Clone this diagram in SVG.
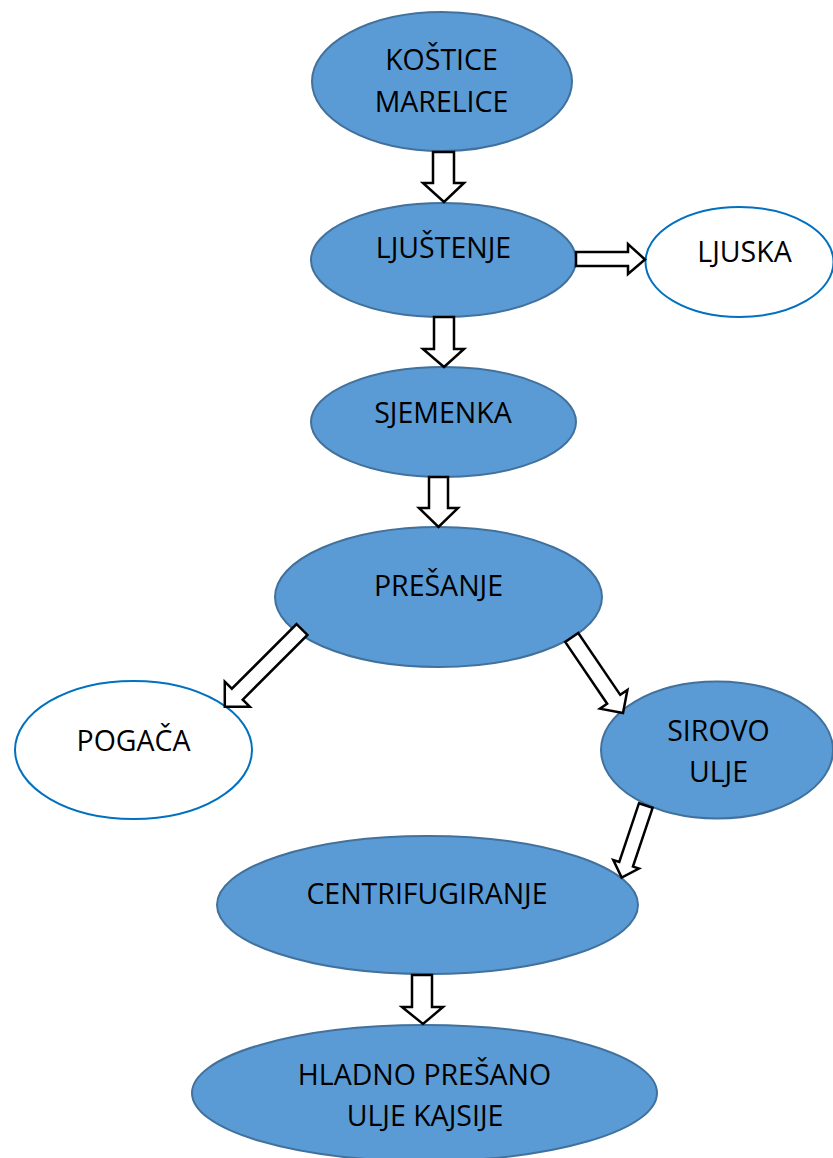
<svg xmlns="http://www.w3.org/2000/svg" width="833" height="1158" viewBox="0 0 833 1158">
  <style>
    .blue { fill: #5B9BD5; stroke: #41719C; stroke-width: 2; }
    .white { fill: #FFFFFF; stroke: #0070C0; stroke-width: 2; }
    .lbl { font-family: "Open Sans", "Noto Sans", sans-serif; font-size: 28.5px; fill: #000000; text-anchor: middle; }
    .arr { fill: #FFFFFF; stroke: #000000; stroke-width: 2.5; stroke-linejoin: miter; }
  </style>
  <rect x="0" y="0" width="833" height="1158" fill="#FFFFFF"/>

  <g id="n-kostice">
    <ellipse class="blue" cx="442" cy="81.5" rx="130" ry="69.5"/>
    <text class="lbl" x="441.5" y="70">KOŠTICE</text>
    <text class="lbl" x="441.5" y="112">MARELICE</text>
  </g>
  <g id="n-ljustenje">
    <ellipse class="blue" cx="443.5" cy="260" rx="132.5" ry="57"/>
    <text class="lbl" x="443.5" y="258">LJUŠTENJE</text>
  </g>
  <g id="n-ljuska">
    <ellipse class="white" cx="739.5" cy="262" rx="94" ry="55"/>
    <text class="lbl" x="744.5" y="262">LJUSKA</text>
  </g>
  <g id="n-sjemenka">
    <ellipse class="blue" cx="443.5" cy="422" rx="132.5" ry="55"/>
    <text class="lbl" x="443" y="423">SJEMENKA</text>
  </g>
  <g id="n-presanje">
    <ellipse class="blue" cx="438.5" cy="597" rx="163.5" ry="70"/>
    <text class="lbl" x="438.5" y="596">PREŠANJE</text>
  </g>
  <g id="n-pogaca">
    <ellipse class="white" cx="133.5" cy="750" rx="118.5" ry="69"/>
    <text class="lbl" x="133.5" y="751">POGAČA</text>
  </g>
  <g id="n-sirovo">
    <ellipse class="blue" cx="717" cy="750" rx="116" ry="68.5"/>
    <text class="lbl" x="718.5" y="741">SIROVO</text>
    <text class="lbl" x="718.5" y="782">ULJE</text>
  </g>
  <g id="n-centrifugiranje">
    <ellipse class="blue" cx="427.5" cy="905" rx="210.5" ry="69"/>
    <text class="lbl" x="427" y="904">CENTRIFUGIRANJE</text>
  </g>
  <g id="n-hladno">
    <ellipse class="blue" cx="424.5" cy="1093" rx="232.5" ry="68"/>
    <text class="lbl" x="424.5" y="1085">HLADNO PREŠANO</text>
    <text class="lbl" x="425" y="1126">ULJE KAJSIJE</text>
  </g>

  <g id="connectors">
    <polygon class="arr" points="433,152 454,152 454,183 464,183 444,202 423,183 433,183"/>
    <polygon class="arr" points="434,317 454,317 454,349 464,349 444,367 423,349 434,349"/>
    <polygon class="arr" points="429,477 448,477 448,508 458,508 438.5,527 419,508 429,508"/>
    <polygon class="arr" points="576,252 628,252 628,244 645,259.5 628,274 628,266 576,266"/>
    <polygon class="arr" transform="translate(302,629.5) rotate(45)" points="-7.7,0 7.7,0 7.7,91.5 17.7,91.5 0,109.2 -17.7,91.5 -7.7,91.5"/>
    <polygon class="arr" transform="translate(571.7,637.5) rotate(-34.2)" points="-7.9,0 7.9,0 7.9,74.7 16.6,74.7 0,91.3 -16.6,74.7 -7.9,74.7"/>
    <polygon class="arr" transform="translate(645.8,805.5) rotate(18.5)" points="-7.2,0 7.2,0 7.2,62 13.5,62 0,76 -13.5,62 -7.2,62"/>
    <polygon class="arr" points="412,975 432,975 432,1007 443,1007 423,1024 402,1007 412,1007"/>
  </g>
</svg>
